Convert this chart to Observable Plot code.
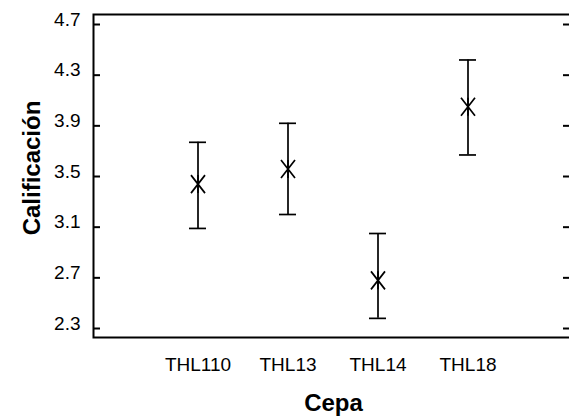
<!DOCTYPE html>
<html>
<head>
<meta charset="utf-8">
<script src="https://cdn.jsdelivr.net/npm/d3@7"></script>
<script src="https://cdn.jsdelivr.net/npm/@observablehq/plot@0.6"></script>
<style>
  html, body { margin: 0; padding: 0; background: #fff; }
  #chart svg { display: block; }
</style>
</head>
<body>
<div id="chart"></div>
<script>
// Data
const cepas = ["THL110", "THL13", "THL14", "THL18"];
const medias = [3.44, 3.56, 2.68, 4.05];
const inferior = [3.09, 3.20, 2.38, 3.67];
const superior = [3.77, 3.92, 3.05, 4.42];
const yTicks = [2.3, 2.7, 3.1, 3.5, 3.9, 4.3, 4.7];
const xTitle = "Cepa";
const yTitle = "Calificación";

const data = cepas.map((c, i) => ({cepa: c, media: medias[i], lo: inferior[i], hi: superior[i]}));

const starSymbol = {
  draw(ctx) {
    const a = 7, b = 9;
    ctx.moveTo(-a, -b); ctx.lineTo(a, b);
    ctx.moveTo(-a, b); ctx.lineTo(a, -b);
    ctx.moveTo(0, -b); ctx.lineTo(0, b);
  }
};

const font = "'Liberation Sans', Arial, Helvetica, sans-serif";

const chart = Plot.plot({
  width: 569,
  height: 418,
  marginTop: 14,
  marginBottom: 81,
  marginLeft: 93,
  marginRight: -4,
  style: {fontFamily: font, fontSize: "19px", color: "#000", background: "#fff", overflow: "hidden"},
  x: {type: "band", domain: cepas, paddingInner: 0.811, paddingOuter: 1.06, axis: null},
  y: {domain: [2.229, 4.779], axis: null},
  marks: [
    Plot.frame({stroke: "#000", strokeWidth: 2}),
    // tick marks (inward) on left and right
    Plot.axisY(yTicks, {anchor: "left", tickSize: 7, dx: 7, tickFormat: () => "", strokeWidth: 2, label: null}),
    Plot.axisY(yTicks, {anchor: "right", tickSize: 11, dx: -11, tickFormat: () => "", strokeWidth: 2, label: null}),
    // left labels
    Plot.axisY(yTicks, {anchor: "left", tickSize: 0, tickPadding: 13, dy: -5, fontSize: 19, tickFormat: d3.format(".1f"), label: null}),
    // x labels
    Plot.axisX(cepas, {anchor: "bottom", tickSize: 0, tickPadding: 20, fontSize: 19, label: null}),
    // error bars
    Plot.ruleX(data, {x: "cepa", y1: "lo", y2: "hi", stroke: "#000", strokeWidth: 1.7}),
    Plot.tickY(data, {x: "cepa", y: "hi", stroke: "#000", strokeWidth: 1.7}),
    Plot.tickY(data, {x: "cepa", y: "lo", stroke: "#000", strokeWidth: 1.7}),
    Plot.dot(data, {x: "cepa", y: "media", symbol: starSymbol, fill: "none", stroke: "#000", strokeWidth: 1.7}),
    // titles
    Plot.text([xTitle], {text: d => d, frameAnchor: "bottom", textAnchor: "middle", dx: 0, dy: 73, fontSize: 24, fontWeight: "bold"}),
    Plot.text([yTitle], {text: d => d, frameAnchor: "left", textAnchor: "middle", lineAnchor: "middle", rotate: -90, dx: -61, dy: -8, fontSize: 24, fontWeight: "bold"})
  ]
});

document.getElementById("chart").appendChild(chart);
</script>
</body>
</html>
